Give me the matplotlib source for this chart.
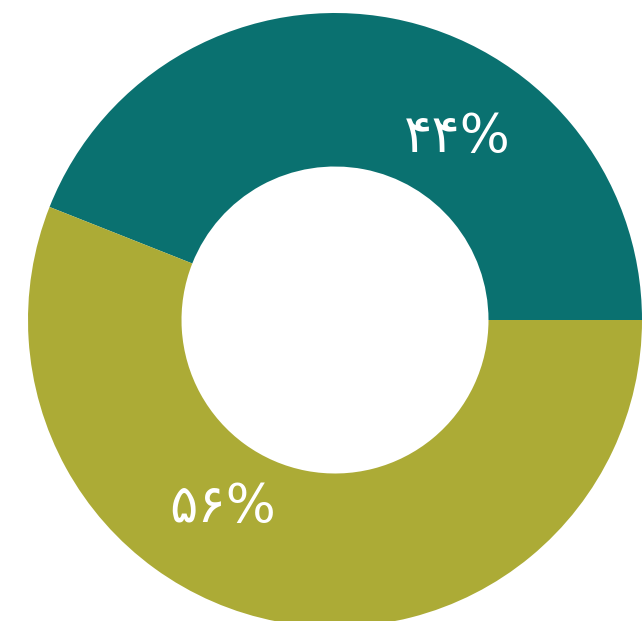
import numpy as np
import matplotlib.pyplot as plt

# داده ها
values = [44, 56]
colors = ["#0A7170", "#ACAB36"]
label_pos = [(0.397, 0.596), (-0.365, -0.609)]

persian = str.maketrans("0123456789", "۰۱۲۳۴۵۶۷۸۹")

fig = plt.figure(figsize=(6.43, 6.21), dpi=100, facecolor="white")
ax = fig.add_axes([0, 0, 1, 1])

# donut, start at 3 o'clock, counterclockwise
ax.pie(values, colors=colors, startangle=0, counterclock=True, radius=1,
       wedgeprops=dict(width=0.5, linewidth=0))

for v, (x, y) in zip(values, label_pos):
    ax.text(x, y, (str(v) + "%").translate(persian), color="white",
            fontsize=38, ha="center", va="center", family=["DejaVu Sans"])

r = 307.0
ax.set_xlim(-335 / r, (643 - 335) / r)
ax.set_ylim(-(621 - 320) / r, 320 / r)
ax.set_aspect("auto")
ax.axis("off")

plt.savefig("out.png", dpi=100, facecolor="white")
